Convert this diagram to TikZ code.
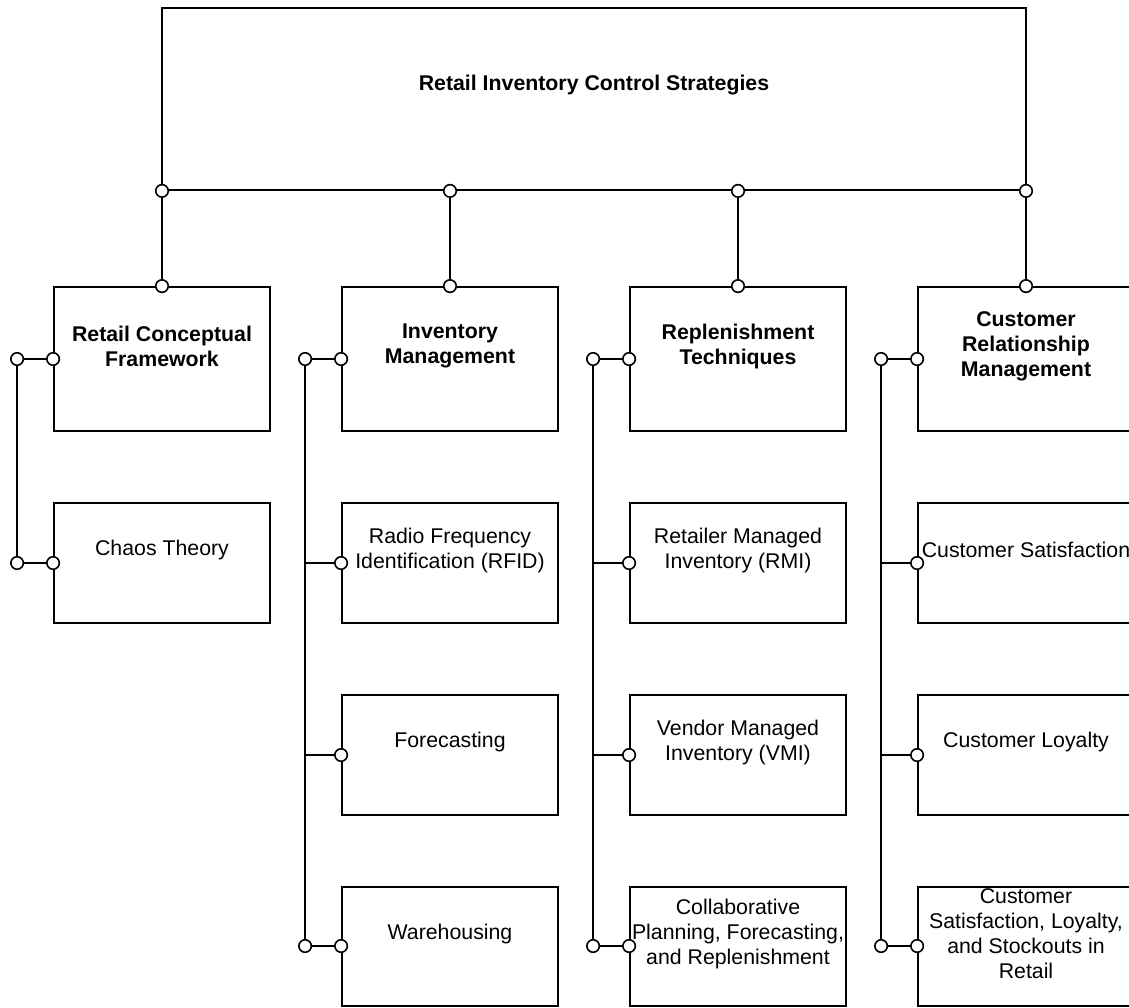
\documentclass[tikz,border=0pt]{standalone}
\usepackage{fontspec}
\setmainfont{Liberation Sans}
\begin{document}
\tikzset{
  boxst/.style={draw, line width=1.8pt, rectangle, inner sep=0pt, minimum width=216pt},
  hbox/.style={boxst, minimum height=144pt},
  rbox/.style={boxst, minimum height=120pt},
  lbl/.style={align=center, inner sep=0pt, font=\fontsize{21.3}{25}\selectfont},
  blbl/.style={align=center, inner sep=0pt, font=\fontsize{21.3}{25}\selectfont\bfseries},
  dot/.style={circle, draw, line width=1.6pt, fill=white, minimum size=12.5pt, inner sep=0pt},
  wire/.style={line width=1.6pt}
}
\begin{tikzpicture}[x=1pt,y=-1pt]
\clip (0,0) rectangle (1129,1007);
% top box
\node[boxst, minimum width=864pt, minimum height=182pt] (top) at (594,99) {};
\node[blbl] (title) at ([yshift=14pt]top.center) {Retail Inventory Control Strategies};
% level-1 boxes
\node[hbox] (h1) at (162,359) {};
\node[hbox] (h2) at (450,359) {};
\node[hbox] (h3) at (738,359) {};
\node[hbox] (h4) at (1026,359) {};
\node[blbl] (th1) at ([yshift=13pt]h1.center) {Retail Conceptual\\Framework};
\node[blbl] (th2) at ([yshift=13pt]h2.center) {Inventory\\Management};
\node[blbl] (th3) at ([yshift=13pt]h3.center) {Replenishment\\Techniques};
\node[blbl] (th4) at ([yshift=13pt]h4.center) {Customer\\Relationship\\Management};
% row boxes
\node[rbox] (a1) at (162,563) {};
\node[rbox] (a2) at (450,563) {};
\node[rbox] (b2) at (450,755) {};
\node[rbox, minimum height=119pt] (c2) at (450,946.5) {};
\node[rbox] (a3) at (738,563) {};
\node[rbox] (b3) at (738,755) {};
\node[rbox, minimum height=119pt] (c3) at (738,946.5) {};
\node[rbox] (a4) at (1026,563) {};
\node[rbox] (b4) at (1026,755) {};
\node[rbox, minimum height=119pt] (c4) at (1026,946.5) {};
\node[lbl] (ta1) at ([yshift=13pt]a1.center) {Chaos Theory};
\node[lbl] (ta2) at ([yshift=13pt]a2.center) {Radio Frequency\\Identification (RFID)};
\node[lbl] (tb2) at ([yshift=13pt]b2.center) {Forecasting};
\node[lbl] (tc2) at ([yshift=13pt]c2.center) {Warehousing};
\node[lbl] (ta3) at ([yshift=13pt]a3.center) {Retailer Managed\\Inventory (RMI)};
\node[lbl] (tb3) at ([yshift=13pt]b3.center) {Vendor Managed\\Inventory (VMI)};
\node[lbl] (tc3) at ([yshift=13pt]c3.center) {Collaborative\\Planning, Forecasting,\\and Replenishment};
\node[lbl] (ta4) at ([yshift=13pt]a4.center) {Customer Satisfaction};
\node[lbl] (tb4) at ([yshift=13pt]b4.center) {Customer Loyalty};
\node[lbl] (tc4) at ([yshift=13pt]c4.center) {Customer\\Satisfaction, Loyalty,\\and Stockouts in\\Retail};
% top connectors
\foreach \i in {1,2,3,4}{
  \node[dot] (t\i) at (h\i.north |- top.south) {};
  \node[dot] (n\i) at (h\i.north) {};
  \draw[wire] (t\i) -- (n\i);
}
% column 1
\node[dot] (e1) at (h1.west) {};
\node[dot] (o1) at ([xshift=-36pt]h1.west) {};
\node[dot] (ea1) at (a1.west) {};
\node[dot] (oa1) at ([xshift=-36pt]a1.west) {};
\draw[wire] (o1) -- (e1);
\draw[wire] (oa1) -- (ea1);
\draw[wire] (o1) -- (oa1);
% columns 2-4
\foreach \i in {2,3,4}{
  \node[dot] (e\i) at (h\i.west) {};
  \node[dot] (o\i) at ([xshift=-36pt]h\i.west) {};
  \node[dot] (ec\i) at ([yshift=0.5pt]c\i.west) {};
  \node[dot] (oc\i) at ([xshift=-36pt,yshift=0.5pt]c\i.west) {};
  \node[dot] (ea\i) at (a\i.west) {};
  \node[dot] (eb\i) at (b\i.west) {};
  \coordinate (ja\i) at (o\i |- a\i.west);
  \coordinate (jb\i) at (o\i |- b\i.west);
  \draw[wire] (o\i) -- (e\i);
  \draw[wire] (oc\i) -- (ec\i);
  \draw[wire] (o\i) -- (oc\i);
  \draw[wire] (ja\i) -- (ea\i);
  \draw[wire] (jb\i) -- (eb\i);
}
\end{tikzpicture}
\end{document}
